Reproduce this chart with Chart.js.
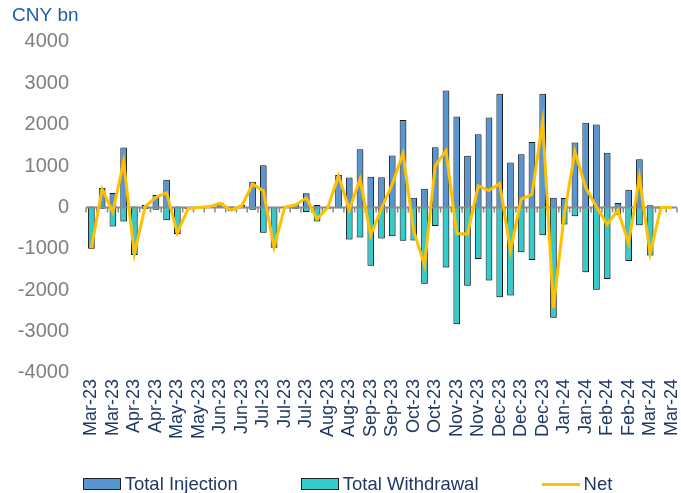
<!DOCTYPE html>
<html>
<head>
<meta charset="utf-8">
<script src="https://cdn.jsdelivr.net/npm/chart.js@4.4.0/dist/chart.umd.min.js"></script>
<style>
  html, body { margin: 0; padding: 0; background: #fff; }
  #wrap { position: relative; width: 681px; height: 493px; }
  #legend {
    position: absolute; left: 0; right: 0; top: 473px; padding-left: 14px;
    display: flex; justify-content: center; gap: 63px;
    font: 18.5px "Liberation Sans", Arial, sans-serif; color: #1F3864;
  }
  #legend .item { display: flex; align-items: center; line-height: 22px; }
  #legend .box { width: 36px; height: 10px; border: 1px solid #222; margin-right: 4px; }
  #legend .ln { width: 38px; height: 3px; margin-right: 4px; }
</style>
</head>
<body>
<div id="wrap">
  <canvas id="flows" width="681" height="493"></canvas>
  <div id="legend"></div>
</div>
<script>
// weekly buckets, Mar-23 .. Mar-24 (every other one is labelled)
var weeks = [
  'Mar-23', 'Mar-23', 'Mar-23', 'Mar-23', 'Apr-23', 'Apr-23', 'Apr-23', 'Apr-23',
  'May-23', 'May-23', 'May-23', 'May-23', 'Jun-23', 'Jun-23', 'Jun-23', 'Jun-23',
  'Jul-23', 'Jul-23', 'Jul-23', 'Jul-23', 'Jul-23', 'Aug-23', 'Aug-23', 'Aug-23',
  'Aug-23', 'Sep-23', 'Sep-23', 'Sep-23', 'Sep-23', 'Oct-23', 'Oct-23', 'Oct-23',
  'Oct-23', 'Nov-23', 'Nov-23', 'Nov-23', 'Nov-23', 'Dec-23', 'Dec-23', 'Dec-23',
  'Dec-23', 'Dec-23', 'Dec-23', 'Jan-24', 'Jan-24', 'Jan-24', 'Jan-24', 'Feb-24',
  'Feb-24', 'Feb-24', 'Feb-24', 'Mar-24', 'Mar-24', 'Mar-24', 'Mar-24'
];

// CNY bn
var injection = [
  20, 470, 350, 1445, 20, 60, 300, 665, 20, 10, 5, 20, 110, 20, 60, 620,
  1020, 10, 20, 90, 340, 60, 20, 780, 725, 1405, 740, 730, 1255, 2110, 230, 450,
  1455, 2825, 2195, 1245, 1765, 2170, 2745, 1085, 1285, 1580, 2745, 230, 225, 1565,
  2045, 2005, 1320, 105, 425, 1165, 50, 30, 10
];
var withdrawal = [
  -1000, -30, -460, -340, -1150, -40, -55, -310, -640, -40, -5, 0, -10, -90, -20, -60,
  -615, -975, -10, -30, -110, -340, -30, -20, -775, -725, -1410, -750, -695, -805, -800, -1845,
  -450, -1455, -2825, -1890, -1245, -1765, -2170, -2130, -1085, -1270, -670, -2665, -415, -215,
  -1565, -1990, -1730, -175, -1295, -430, -1165, -30, -10
];
var net = [
  -980, 440, -110, 1105, -1130, 20, 245, 355, -620, -30, 0, 20, 100, -70, 40, 560,
  405, -965, 10, 60, 230, -280, -10, 760, -50, 680, -670, -20, 560, 1305, -570, -1395,
  1005, 1370, -630, -645, 520, 405, 575, -1045, 200, 310, 2075, -2435, -190, 1350,
  480, 15, -410, -70, -870, 735, -1115, 0, 0
];

var yTicks = [-4000, -3000, -2000, -1000, 0, 1000, 2000, 3000, 4000];

var FONT = '"Liberation Sans", Arial, sans-serif';

// grey zero line with small hanging ticks, drawn over the bars but under the net line
var zeroAxis = {
  id: 'zeroAxis',
  beforeDatasetDraw: function(chart, args) {
    if (args.meta.type !== 'line') return;
    var xs = chart.scales.x, ys = chart.scales.y, ctx = chart.ctx;
    var y0 = ys.getPixelForValue(0);
    var step = xs.getPixelForValue(1) - xs.getPixelForValue(0);
    ctx.save();
    ctx.strokeStyle = '#8a8a8a';
    ctx.lineWidth = 2;
    ctx.beginPath();
    ctx.moveTo(xs.left, y0);
    ctx.lineTo(xs.right, y0);
    ctx.stroke();
    ctx.lineWidth = 1.5;
    ctx.beginPath();
    for (var i = 0; i <= weeks.length; i++) {
      var px = xs.getPixelForValue(0) - step / 2 + i * step;
      ctx.moveTo(px, y0);
      ctx.lineTo(px, y0 + 5);
    }
    ctx.stroke();
    ctx.restore();
  }
};

// soft shadow round the bars
var barShadow = {
  id: 'barShadow',
  beforeDatasetDraw: function(chart, args) {
    if (args.meta.type !== 'bar') return;
    var ctx = chart.ctx;
    ctx.save();
    ctx.shadowColor = 'rgba(0,0,0,0.3)';
    ctx.shadowBlur = 2;
    ctx.shadowOffsetX = 1;
    ctx.shadowOffsetY = 1;
  },
  afterDatasetDraw: function(chart, args) {
    if (args.meta.type === 'bar') chart.ctx.restore();
  }
};

var chart = new Chart(document.getElementById('flows').getContext('2d'), {
  type: 'bar',
  data: {
    labels: weeks,
    datasets: [
      {
        label: 'Total Injection',
        data: injection,
        backgroundColor: '#5896D3',
        borderColor: '#1c1c1c',
        borderWidth: 1,
        grouped: false,
        barPercentage: 0.62,
        categoryPercentage: 1,
        order: 1
      },
      {
        label: 'Total Withdrawal',
        data: withdrawal,
        backgroundColor: '#33CCCC',
        borderColor: '#1c1c1c',
        borderWidth: 1,
        grouped: false,
        barPercentage: 0.62,
        categoryPercentage: 1,
        order: 2
      },
      {
        type: 'line',
        label: 'Net',
        data: net,
        borderColor: '#FFC000',
        backgroundColor: '#FFC000',
        borderWidth: 3,
        pointRadius: 0,
        tension: 0,
        order: 0
      }
    ]
  },
  options: {
    responsive: false,
    animation: false,
    layout: { padding: { left: 12, right: 4, top: 4, bottom: 48 } },
    plugins: {
      legend: { display: false },
      tooltip: { enabled: false },
      title: {
        display: true,
        text: 'CNY bn',
        align: 'start',
        color: '#1F5CAA',
        font: { family: FONT, size: 19, weight: 'normal' },
        padding: { top: 0, bottom: 15 }
      }
    },
    scales: {
      x: {
        grid: { display: false, drawTicks: false },
        border: { display: false },
        afterFit: function(s) { s.paddingLeft = 0; s.paddingRight = 0; },
        ticks: {
          autoSkip: false,
          maxRotation: 90,
          minRotation: 90,
          padding: 6,
          color: '#1F3864',
          font: { family: FONT, size: 18 },
          callback: function(v, i) { return i % 2 === 0 ? weeks[i] : ''; }
        }
      },
      y: {
        min: yTicks[0],
        max: yTicks[yTicks.length - 1],
        afterFit: function(s) { s.width = 74; },
        afterBuildTicks: function(s) { s.ticks = yTicks.map(function(v) { return { value: v }; }); },
        grid: { display: false, drawTicks: false },
        border: { display: false },
        ticks: {
          padding: 17,
          color: '#7F7F7F',
          font: { family: FONT, size: 20 },
          callback: function(v) { return String(v); }
        }
      }
    }
  },
  plugins: [zeroAxis, barShadow]
});

// legend row under the axis labels
var legend = document.getElementById('legend');
chart.data.datasets.forEach(function(ds) {
  var item = document.createElement('div');
  item.className = 'item';
  var mark = document.createElement('span');
  if (ds.type === 'line') {
    mark.className = 'ln';
    mark.style.background = ds.borderColor;
  } else {
    mark.className = 'box';
    mark.style.background = ds.backgroundColor;
  }
  item.appendChild(mark);
  item.appendChild(document.createTextNode(ds.label));
  legend.appendChild(item);
});
</script>
</body>
</html>
